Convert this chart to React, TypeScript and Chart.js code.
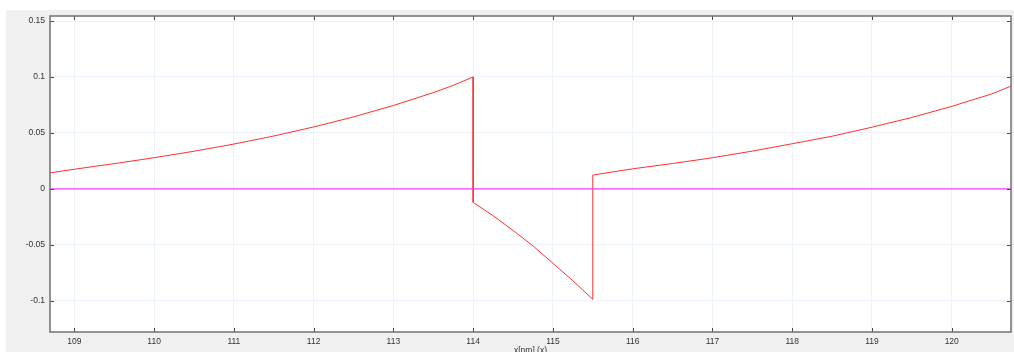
import { useEffect, useRef } from "react";
import { Chart, registerables } from "chart.js";

Chart.register(...registerables);

// Axis ranges
const xMin = 108.695;
const xMax = 120.743;
const yMin = -0.128;
const yMax = 0.1545;

// Tick positions and labels
const xTicks = [109, 110, 111, 112, 113, 114, 115, 116, 117, 118, 119, 120];
const yTicks = [-0.1, -0.05, 0, 0.05, 0.1, 0.15];
const yTickLabels = ["-0.1", "-0.05", "0", "0.05", "0.1", "0.15"];

// Red trace, first rising branch
const riseAX = [108.7, 109, 109.5, 110, 110.5, 111, 111.5, 112, 112.5, 113, 113.5, 113.75, 114];
const riseAY = [0.0143, 0.0175, 0.0225, 0.0278, 0.0336, 0.04, 0.0472, 0.0553, 0.0643, 0.0745, 0.086, 0.0925, 0.1];

// Red trace, falling branch between the two jumps
const fallX = [114, 114.25, 114.5, 114.75, 115, 115.25, 115.5];
const fallY = [-0.0121, -0.024, -0.0372, -0.051, -0.0665, -0.0822, -0.0988];

// Red trace, second rising branch
const riseBX = [115.5, 116, 116.5, 117, 117.5, 118, 118.5, 119, 119.5, 120, 120.5, 120.75];
const riseBY = [0.0123, 0.0179, 0.0226, 0.0278, 0.0337, 0.0403, 0.047, 0.0551, 0.0638, 0.0737, 0.0848, 0.092];

// Zero reference line
const baseX = [xMin, xMax];
const baseY = [0, 0];

const xTitle = "x[nm] (x)";

const FONT = "'Liberation Sans', Arial, sans-serif";
const TEXT_COLOR = "#333333";
const GRID_COLOR = "#eef3fb";

const toPoints = (xs: number[], ys: number[]) => xs.map((x, i) => ({ x, y: ys[i] }));

const plotFrame = {
  id: "plotFrame",
  beforeDraw(chart: any) {
    const { ctx, chartArea } = chart;
    const { left, top, right, bottom } = chartArea;
    ctx.save();
    ctx.fillStyle = "#ffffff";
    ctx.fillRect(left, top, right - left, bottom - top);
    ctx.restore();
  },
  afterDatasetsDraw(chart: any) {
    const { ctx, chartArea, scales } = chart;
    const { left, top, right, bottom } = chartArea;
    const xs = scales.x;
    const ys = scales.y;
    const len = 4;
    ctx.save();
    ctx.strokeStyle = "#4a4a4a";
    ctx.lineWidth = 1;
    ctx.beginPath();
    xs.ticks.forEach((t: any) => {
      const px = Math.round(xs.getPixelForValue(t.value)) + 0.5;
      ctx.moveTo(px, bottom);
      ctx.lineTo(px, bottom - len);
      ctx.moveTo(px, top);
      ctx.lineTo(px, top + len);
    });
    ys.ticks.forEach((t: any) => {
      const py = Math.round(ys.getPixelForValue(t.value)) + 0.5;
      ctx.moveTo(left, py);
      ctx.lineTo(left + len, py);
      ctx.moveTo(right, py);
      ctx.lineTo(right - len, py);
    });
    ctx.stroke();
    ctx.strokeStyle = "#707070";
    ctx.lineWidth = 1.5;
    ctx.strokeRect(left, top, right - left, bottom - top);
    ctx.restore();
  },
};

export default function App() {
  const canvasRef = useRef<HTMLCanvasElement | null>(null);

  useEffect(() => {
    const canvas = canvasRef.current;
    if (!canvas) return;
    const redTrace = [
      ...toPoints(riseAX, riseAY),
      ...toPoints(fallX, fallY),
      ...toPoints(riseBX, riseBY),
    ];
    const chart = new Chart(canvas, {
      type: "scatter",
      data: {
        datasets: [
          {
            data: redTrace,
            showLine: true,
            borderColor: "#ff3030",
            borderWidth: 1,
            pointRadius: 0,
            tension: 0,
            order: 2,
          },
          {
            data: toPoints(baseX, baseY),
            showLine: true,
            borderColor: "#ff3cff",
            borderWidth: 1.2,
            pointRadius: 0,
            order: 1,
          },
        ],
      },
      plugins: [plotFrame],
      options: {
        animation: false,
        responsive: false,
        events: [],
        layout: { padding: { left: 0, top: 6, right: 3, bottom: 0 } },
        plugins: {
          legend: { display: false },
          tooltip: { enabled: false },
        },
        scales: {
          x: {
            type: "linear",
            min: xMin,
            max: xMax,
            afterBuildTicks: (scale: any) => {
              scale.ticks = xTicks.map((v) => ({ value: v }));
            },
            afterFit: (scale: any) => {
              scale.height = 38;
              scale.paddingLeft = 0;
              scale.paddingRight = 0;
            },
            grid: { color: GRID_COLOR, lineWidth: 1, drawTicks: false },
            border: { display: false },
            ticks: {
              padding: 5,
              maxRotation: 0,
              autoSkip: false,
              color: TEXT_COLOR,
              font: { family: FONT, size: 8.5 },
              callback: (v: any) => String(v),
            },
            title: {
              display: true,
              text: xTitle,
              color: TEXT_COLOR,
              font: { family: FONT, size: 8.5 },
              padding: { top: 0, bottom: 14 },
            },
          },
          y: {
            type: "linear",
            min: yMin,
            max: yMax,
            afterBuildTicks: (scale: any) => {
              scale.ticks = yTicks.map((v) => ({ value: v }));
            },
            afterFit: (scale: any) => {
              scale.width = 44;
              scale.paddingTop = 0;
              scale.paddingBottom = 0;
            },
            grid: { color: GRID_COLOR, lineWidth: 1, drawTicks: false },
            border: { display: false },
            ticks: {
              padding: 5,
              autoSkip: false,
              color: TEXT_COLOR,
              font: { family: FONT, size: 8.5 },
              callback: (v: any) => {
                const i = yTicks.findIndex((t) => Math.abs(t - Number(v)) < 1e-9);
                return i >= 0 ? yTickLabels[i] : "";
              },
            },
          },
        },
      },
    });
    return () => chart.destroy();
  }, []);

  return (
    <div
      style={{
        position: "absolute",
        left: 6,
        top: 10,
        width: 1008,
        height: 342,
        overflow: "hidden",
        background: "#f0f0f0",
      }}
    >
      <canvas ref={canvasRef} width={1008} height={360} style={{ display: "block" }} />
    </div>
  );
}
